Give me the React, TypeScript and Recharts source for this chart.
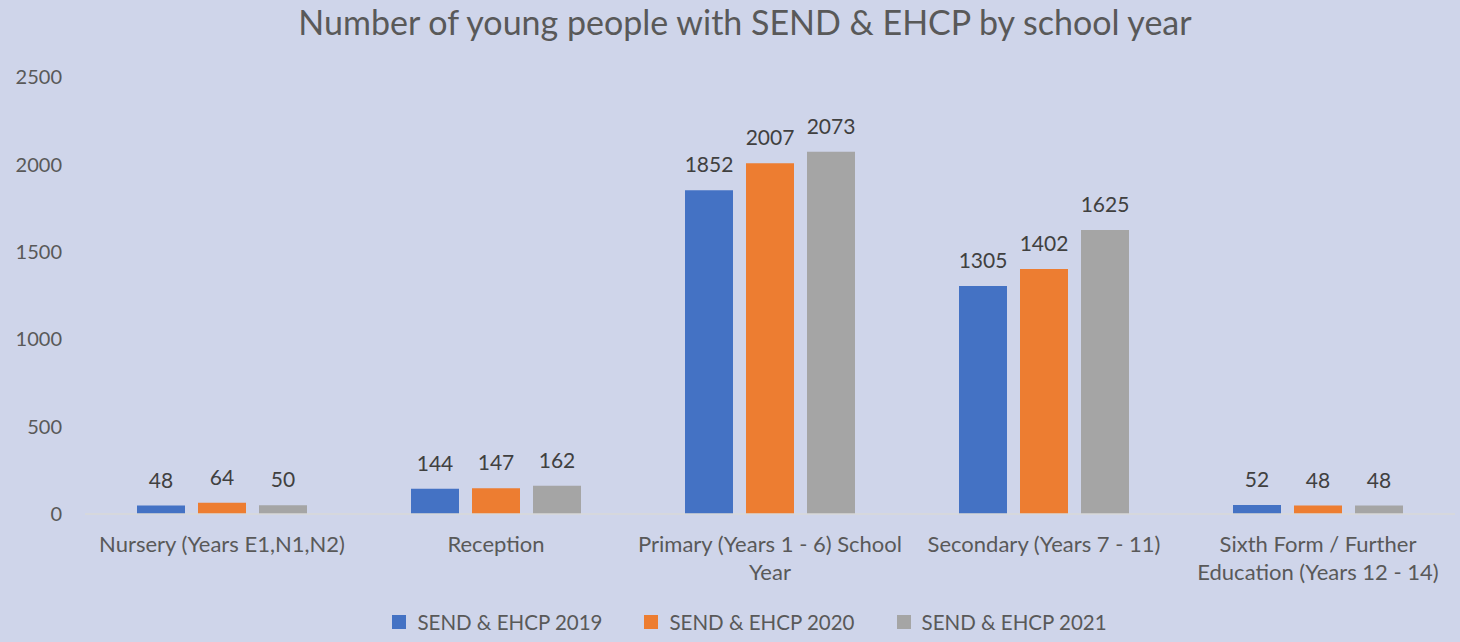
import React from 'react';
import { BarChart, Bar, XAxis, YAxis, Legend, LabelList } from 'recharts';

const categories = [
  'Nursery (Years E1,N1,N2)',
  'Reception',
  'Primary (Years 1 - 6) School Year',
  'Secondary (Years 7 - 11)',
  'Sixth Form / Further Education (Years 12 - 14)',
];
const send2019 = [48, 144, 1852, 1305, 52];
const send2020 = [64, 147, 2007, 1402, 48];
const send2021 = [50, 162, 2073, 1625, 48];
const yTicks = [0, 500, 1000, 1500, 2000, 2500];

const series = [
  { key: 'y2019', name: 'SEND & EHCP 2019', color: '#4472C4' },
  { key: 'y2020', name: 'SEND & EHCP 2020', color: '#ED7D31' },
  { key: 'y2021', name: 'SEND & EHCP 2021', color: '#A5A5A5' },
];

const data = categories.map((c, i) => ({
  category: c,
  y2019: send2019[i],
  y2020: send2020[i],
  y2021: send2021[i],
}));

const FONT = 'Lato, "Open Sans", sans-serif';
const TEXT = '#595959';
const TICK_SIZE = 22;

let ctx: CanvasRenderingContext2D | null = null;
function wrapLabel(label: string, maxWidth: number): string[] {
  if (!ctx) ctx = document.createElement('canvas').getContext('2d');
  if (!ctx) return [label];
  ctx.font = `${TICK_SIZE}px ${FONT}`;
  const words = label.split(' ');
  const lines: string[] = [];
  let cur = '';
  for (const w of words) {
    const next = cur ? cur + ' ' + w : w;
    if (cur && ctx.measureText(next).width > maxWidth) {
      lines.push(cur);
      cur = w;
    } else {
      cur = next;
    }
  }
  if (cur) lines.push(cur);
  return lines;
}

const CategoryTick = (props: any) => {
  const { x, y, payload } = props;
  const lines = wrapLabel(payload.value, 276);
  return (
    <text
      x={x}
      y={y + 10}
      textAnchor="middle"
      fill={TEXT}
      fontSize={TICK_SIZE}
      fontFamily={FONT}
    >
      {lines.map((l, i) => (
        <tspan key={i} x={x} dy={i === 0 ? '0.9em' : 28}>
          {l}
        </tspan>
      ))}
    </text>
  );
};

const LegendContent = () => (
  <div
    style={{
      display: 'flex',
      justifyContent: 'center',
      alignItems: 'center',
      height: 28,
      gap: 42,
      fontFamily: FONT,
      fontSize: 20.5,
      color: TEXT,
      paddingLeft: 44,
    }}
  >
    {series.map((s) => (
      <div key={s.key} style={{ display: 'flex', alignItems: 'center' }}>
        <span style={{ width: 14, height: 14, background: s.color, marginRight: 11 }} />
        {s.name}
      </div>
    ))}
  </div>
);

export default function App() {
  return (
    <div
      style={{
        position: 'absolute',
        left: 0,
        top: 0,
        width: 1460,
        height: 642,
        background: '#CFD5EA',
        fontFamily: FONT,
      }}
    >
      <div
        style={{
          position: 'absolute',
          top: 0,
          left: 0,
          width: 1490,
          textAlign: 'center',
          fontSize: 34,
          lineHeight: '44px',
          color: TEXT,
        }}
      >
        Number of young people with SEND &amp; EHCP by school year
      </div>
      <BarChart
        width={1460}
        height={642}
        data={data}
        margin={{ top: 77, right: 5, left: 0, bottom: 6 }}
        barSize={48}
        barGap={13}
      >
        <XAxis
          dataKey="category"
          interval={0}
          height={94}
          tickLine={false}
          axisLine={{ stroke: '#D9D9D9', strokeWidth: 1.5 }}
          tick={<CategoryTick />}
        />
        <YAxis
          width={85}
          domain={[0, 2500]}
          ticks={yTicks}
          axisLine={false}
          tickLine={false}
          tickMargin={17}
          tick={{ fill: TEXT, fontSize: 20, fontFamily: FONT }}
        />
        <Legend verticalAlign="bottom" content={<LegendContent />} />
        {series.map((s) => (
          <Bar key={s.key} dataKey={s.key} name={s.name} fill={s.color} isAnimationActive={false}>
            <LabelList
              dataKey={s.key}
              position="top"
              offset={18}
              fill="#404040"
              fontSize={21}
              fontFamily={FONT}
            />
          </Bar>
        ))}
      </BarChart>
    </div>
  );
}
